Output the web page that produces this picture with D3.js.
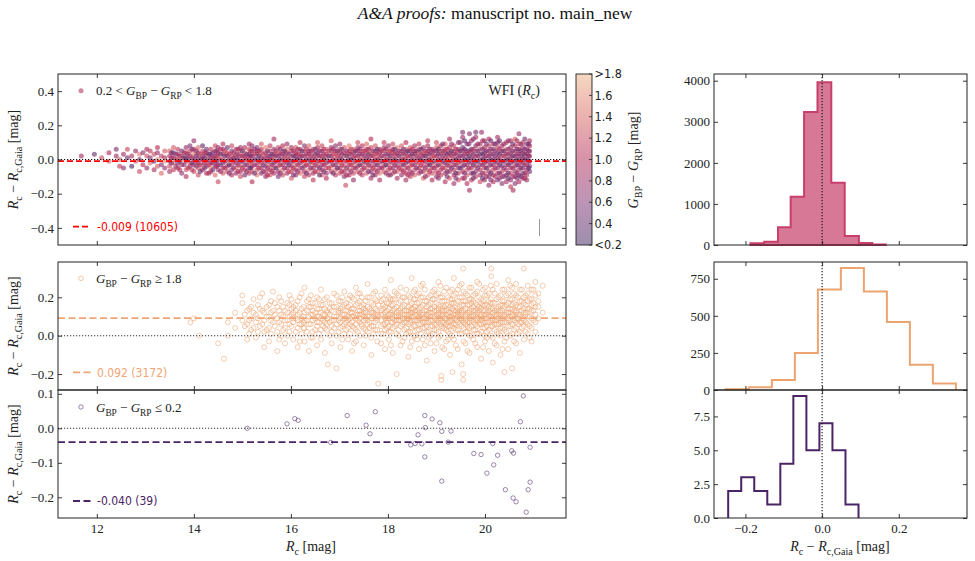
<!DOCTYPE html>
<html><head><meta charset="utf-8">
<script src="https://cdn.jsdelivr.net/npm/d3@7/dist/d3.min.js"></script>
<style>body{margin:0;background:#fff}svg{display:block}</style>
</head><body>
<svg id="c" width="975" height="561"></svg>
<script>
// ================= DATA =================
// Top panel: 0.2 < BP-RP < 1.8. Each row: [Rc, dR(0.01 mag), colour(0.1 mag), dR, colour, ...]
const topPts = [
[11.68,2,9],[11.95,3,5],[12.10,1,12],[12.25,4,10,-1,14],[12.40,2,8,6,6],[12.47,-4,11,0,13],[12.55,-5,7,3,9],[12.63,1,5,6,12],[12.72,-4,3,2,10],[12.80,5,8,-1,13],[12.88,0,6,-7,12,3,15],[12.95,-3,10,4,7],[13.03,2,12,-5,8,6,9],[13.10,-2,14,1,6,5,11],[13.18,-6,9,3,12,-1,4],[13.25,0,16,4,8,-4,13,7,10],[13.33,-3,6,2,11,-8,14],[13.40,1,9,5,13,-5,7,-1,16],
[13.50,-4,12,-1,7,2,10,5,14,-7,9],[13.58,-2,15,1,8,4,5,-6,11,7,13],[13.67,-5,10,-2,6,0,13,3,9,6,11],[13.75,-3,8,0,16,2,12,-8,7,5,5],[13.84,-6,13,-1,9,1,6,4,11,-10,10,7,8],[13.92,-4,7,-2,14,2,9,5,12,8,6],
[14.00,-7,11,-3,9,0,6,3,15,6,10,11,8],[14.09,-5,13,-2,8,1,11,4,7,-9,12,7,14],[14.18,-6,9,-3,15,0,10,2,6,5,12,8,4],[14.26,-4,7,-1,12,2,14,4,8,-8,10,6,5],[14.35,-7,10,-5,16,-2,8,1,12,3,6,6,11],[14.44,-4,9,0,13,2,7,5,10,-9,14,8,12,-1,6],
[14.50,-13,12,-6,8,-3,11,1,15,4,9,7,7],[14.60,-5,10,-2,6,0,14,3,11,6,8,-8,13,9,10],[14.69,-7,12,-4,9,-1,16,2,7,4,13,7,4],[14.78,-6,8,-3,11,0,9,2,14,5,6,-9,10,8,12],[14.87,-5,14,-2,8,1,10,3,12,6,9,-8,7],[14.96,-7,9,-4,13,-1,6,2,11,5,15,7,8,-10,12],
[15.05,-6,11,-3,7,0,12,2,9,4,14,7,10,-9,5],[15.14,-5,8,-2,15,1,10,3,6,6,12,-8,11,9,9],[15.20,-13,10,-7,12,-4,9,-1,14,2,8,5,11,8,7],[15.30,-6,13,-3,10,0,7,3,12,5,9,-9,15,7,6],[15.39,-5,9,-2,12,1,8,4,14,6,10,-8,7,9,13],[15.48,-7,11,-4,6,-1,13,1,10,4,9,7,15,-10,8],
[15.57,-6,10,-3,14,0,9,2,6,5,12,8,11,-9,13],[15.65,12,9,-5,12,-2,8,1,15,3,11,6,7,-8,10],[15.74,-7,8,-4,13,-1,10,2,9,4,14,7,12,-10,6],[15.83,-6,14,-3,9,0,11,3,7,5,13,8,10,-9,12],[15.92,-5,10,-2,7,1,13,4,10,6,15,-8,9,9,8],
[16.01,-7,12,-4,10,-1,8,2,14,5,11,7,9,-11,13],[16.10,-6,9,-3,15,0,12,2,8,4,10,7,13,-9,7],[16.19,-5,13,-2,10,1,7,3,12,6,9,-8,14,10,11],[16.28,-7,10,-4,8,-1,14,2,11,5,13,8,6,-10,12],[16.37,-6,15,-3,12,0,9,3,10,5,8,-9,11,8,14],[16.46,-5,8,-2,13,1,10,4,15,6,12,-8,9,-12,11],
[16.55,-7,14,-4,11,-1,9,2,12,4,7,7,10,10,13],[16.64,-6,9,-3,10,0,15,2,11,5,8,-9,13,8,12],[16.73,-5,12,-2,9,1,13,3,10,6,14,-8,7,-11,10],[16.83,-7,11,-4,14,-1,10,2,8,5,12,7,9,11,13],[16.92,-6,13,-3,8,0,12,3,14,5,10,-9,11,8,7],
[17.01,-5,10,-2,15,1,9,4,11,6,13,-8,12,9,8],[17.10,-7,9,-4,12,-1,11,2,14,4,10,7,13,-10,7],[17.13,-15,12],[17.20,-6,14,-3,10,0,8,3,12,5,11,8,15,-9,9],[17.29,-5,11,-2,13,1,10,4,9,6,14,-8,12,-12,8],[17.38,-7,13,-4,9,-1,15,2,11,5,10,7,8,10,12],
[17.47,-6,10,-3,12,0,14,3,9,5,13,-9,11,8,10],[17.56,-5,15,-2,11,1,8,4,12,6,10,-8,13,9,14],[17.65,-7,8,-4,11,-1,13,2,10,4,15,7,12,-11,9,12,10],[17.74,-6,12,-3,9,0,11,3,14,5,8,-9,10,8,13],[17.83,-5,10,-2,14,1,12,4,9,6,11,-8,15,-12,10],[17.92,-7,13,-4,10,-1,8,2,12,5,14,7,9,10,11],
[18.01,-6,11,-3,13,0,10,3,9,5,15,-9,12,8,8],[18.10,-5,9,-2,12,1,14,4,11,6,10,-8,13,9,12],[18.19,-7,14,-4,8,-1,11,2,13,4,10,7,15,-11,9],[18.28,-6,10,-3,12,0,9,3,14,5,11,-9,8,8,13],[18.37,-5,13,-2,10,1,12,4,8,6,14,-8,11,-12,9,10,10],[18.46,-7,9,-4,14,-1,12,2,10,5,9,7,13,-10,11],
[18.55,-6,12,-3,8,0,13,3,11,5,10,-9,14,8,9],[18.64,-5,10,-2,13,1,9,4,14,6,12,-8,10,9,11],[18.73,-7,11,-4,12,-1,10,2,9,4,13,7,8,-11,14],[18.82,-6,14,-3,9,0,11,3,12,5,10,-9,13,8,9,11,11],[18.91,-5,9,-2,11,1,13,4,10,6,8,-8,12,-12,10],
[19.00,-7,12,-4,10,-1,14,2,11,5,9,7,13,-10,8,10,12],[19.09,-6,10,-3,13,0,9,3,12,5,14,-9,11,8,10],[19.18,-5,13,-2,8,1,11,4,10,6,12,-8,9,9,14,-13,10],[19.27,-7,9,-4,11,-1,12,2,14,4,8,7,11,-11,13,12,9],[19.36,-6,11,-3,10,0,12,3,9,5,13,-9,10,8,12,-14,8],[19.45,-5,8,-2,12,1,10,4,13,6,9,-8,11,10,7,-12,12],
[19.54,-7,10,-4,6,-1,13,2,8,5,11,7,5,-11,9,13,8,16,6],[19.63,-6,12,-3,8,0,5,3,11,5,9,-9,13,9,7,-14,10],[19.68,15,7,-18,9],[19.72,-5,9,-2,11,1,8,4,12,6,4,-8,7,11,9,-12,11],[19.81,-7,8,-4,12,-1,5,2,10,5,13,8,7,-10,11,13,9,16,5],[19.90,-6,10,-3,7,0,11,3,4,6,12,-9,8,9,10,-13,12],[19.93,16,8],
[19.99,-5,11,-2,9,1,6,4,8,7,10,-8,13,11,7,-12,9],[20.08,-7,9,-4,13,-1,8,2,5,5,9,8,12,-10,7,12,10,-15,8],[20.17,-6,12,-3,8,0,10,3,6,6,7,-9,11,9,9,-13,10],[20.26,-5,8,-2,11,1,9,4,7,7,12,-8,10,10,8,-12,6,13,9],[20.35,-7,11,-4,7,-1,5,2,13,5,8,8,9,-10,12,-14,7],
[20.44,-6,9,-3,12,0,8,3,10,6,14,-9,7,10,11,-13,9],[20.53,-5,10,-2,7,1,11,4,9,7,8,-8,12,11,10,-12,8,-16,11],[20.58,-18,9],[20.62,-7,8,-4,11,-1,9,2,7,5,12,8,10,-10,8,12,13,-14,6],[20.70,-6,11,-3,8,0,12,3,9,6,10,-9,7,9,13,15,8,-13,10],
[20.78,-5,7,-2,10,1,8,4,11,7,9,-8,6,10,12,-11,9],[20.86,-6,9,-3,12,0,7,3,10,6,8,-9,11,9,6,-12,8],[20.92,-4,6,-1,9,2,8,5,7,8,10,-7,5,11,9]
];
// more stars of the same sample, read between the columns above
const topPts2 = [
[13.54,-2,6,1,9,4,5],[13.63,-4,8,0,11,3,7],[13.71,-1,5,2,9,-6,10],[13.80,-3,7,1,4,4,9],[13.88,-5,10,0,6,3,8],[13.96,-2,4,1,9,6,7,-6,11],[14.05,-4,7,-1,10,2,5,5,8],[14.13,-3,9,0,6,3,11,-7,4],[14.22,-5,6,-2,8,1,5,4,10],[14.31,-3,10,0,7,3,4,-8,9],[14.39,-6,5,-2,9,1,8,4,6],[14.47,-4,8,-1,5,2,10,5,7],
[14.55,-3,6,0,9,3,4,-7,8,6,10],[14.64,-5,9,-1,7,2,5,5,11],[14.73,-3,4,0,8,3,10,-8,6],[14.82,-5,7,-1,10,1,6,4,9],[14.91,-3,8,0,5,3,7,-7,10,6,9],[15.00,-5,10,-1,6,2,9,5,4],[15.09,-3,7,0,11,3,5,-7,8],[15.17,-5,4,-1,9,2,7,5,10],[15.25,-3,8,0,6,3,9,-8,5,6,7],[15.34,-5,10,-1,7,2,4,5,9],[15.43,-3,6,0,8,3,11,-7,7],
[15.52,-5,9,-1,5,2,8,5,6,-9,10],[15.61,-3,7,0,10,3,4,-7,9],[15.69,-5,4,-1,8,2,6,5,10],[15.78,-3,9,0,5,3,8,-8,7,6,6],[15.87,-5,7,-1,10,2,9,5,4],[15.96,-3,5,0,8,3,6,-7,11],[16.05,-5,10,-1,7,2,4,5,9,-9,6],[16.14,-3,8,0,5,3,10,-7,7,6,9],[16.23,-5,6,-1,9,2,7,5,4],[16.32,-3,10,0,6,3,8,-8,5,6,11],
[16.41,-5,7,-1,4,2,9,5,8],[16.50,-3,9,0,7,3,5,-7,10,6,6],[16.59,-5,5,-1,10,2,8,5,7,-9,4],[16.68,-3,8,0,4,3,9,-7,6,6,10],[16.78,-5,10,-1,6,2,5,5,9],[16.87,-3,7,0,9,3,11,-8,5,6,8],[16.96,-5,4,-1,8,2,10,5,6],[17.05,-3,9,0,6,3,7,-7,10,6,5],[17.15,-5,6,-1,10,2,4,5,8,-9,9],
[17.24,-3,10,0,5,3,8,-7,7,6,11],[17.33,-5,8,-1,7,2,9,5,5],[17.42,-3,5,0,10,3,6,-8,9,6,7],[17.51,-5,9,-1,4,2,8,5,10],[17.60,-3,7,0,8,3,5,-7,6,6,9],[17.69,-5,10,-1,6,2,9,5,7,-9,5],[17.78,-3,6,0,9,3,10,-7,8,6,4],[17.87,-5,8,-1,5,2,7,5,9],[17.96,-3,4,0,10,3,6,-8,7,6,8],
[18.05,-5,9,-1,7,2,5,5,10,-9,6],[18.14,-3,7,0,4,3,9,-7,8,6,5],[18.23,-5,10,-1,8,2,6,5,7],[18.32,-3,5,0,9,3,7,-7,10,6,6],[18.41,-5,8,-1,5,2,10,5,4,-9,9],[18.50,-3,9,0,7,3,4,-8,8,6,10],[18.59,-5,6,-1,10,2,8,5,5],[18.68,-3,10,0,5,3,9,-7,7,6,4],[18.77,-5,7,-1,8,2,4,5,9,-10,6],
[18.86,-3,4,0,9,3,6,-7,10,6,8],[18.95,-5,9,-1,6,2,10,5,7],[19.04,-3,6,0,8,3,5,-8,9,6,4,-11,7],[19.13,-5,10,-1,4,2,7,5,8,9,6],[19.22,-3,7,0,9,3,4,-7,6,6,10,-10,5],[19.31,-5,5,-1,7,2,9,5,4,9,8],[19.40,-3,8,0,5,3,7,-8,4,6,9,-11,6],[19.49,-5,4,-1,9,2,6,5,5,10,7],
[19.58,-3,7,0,4,3,8,-8,6,6,5,-11,9,11,4],[19.67,-5,9,-1,5,2,4,5,7,9,6],[19.76,-3,5,0,8,3,6,-8,4,6,9,-11,5,12,7],[19.85,-5,6,-1,4,2,7,5,5,9,8],[19.95,-3,8,0,5,3,4,-8,7,6,6,-11,4,11,9],[20.03,-5,4,-1,7,2,9,5,5,9,6,-10,8],[20.12,-3,6,0,5,3,8,-8,4,6,7,-12,6,11,5],
[20.21,-5,9,-1,4,2,6,5,7,9,5,-10,9],[20.30,-3,5,0,8,3,4,-8,6,6,9,-11,7,11,4],[20.39,-5,7,-1,5,2,9,5,4,9,8,-10,6],[20.48,-3,4,0,6,3,7,-8,5,6,8,-11,4,11,7],[20.57,-5,8,-1,7,2,4,5,6,9,5,-10,9],[20.66,-3,6,0,4,3,8,-8,7,6,5,-11,6,11,9],[20.74,-5,5,-1,9,2,6,5,4,9,7,-10,5],
[20.82,-3,7,0,5,3,4,-8,8,6,6,-11,9,12,5],[20.90,-5,4,-1,6,2,8,5,7,9,5]
];
const topMean = -0.009, topCount = 10605;

// Middle panel: BP-RP >= 1.8. Each row: [Rc, dR values in 0.01 mag ...]
const midPts = [
[13.93,7],[14.00,9],[14.11,0],[14.50,-4],[14.62,-12],[14.70,0,7],[14.85,4,12],[15.00,21,17,8],[15.10,6,13,-2],[15.18,9,15,3],[15.28,11,-1,7],[15.36,14,5,20],[15.45,8,-6,12,2],[15.55,10,16,4,-3],[15.63,7,13,23],[15.72,9,2,15,-8],[15.80,11,6,18,0],[15.88,8,13,-4,4],[15.97,10,16,2,21,6],
[16.05,7,12,-2,9,15],[16.14,11,4,18,-6,8],[16.22,9,14,1,6,22],[16.28,25,12,-3,8,4],[16.37,10,15,6,-8,19],[16.45,8,13,2,11,-1,17],[16.54,10,5,14,20,-5,7],[16.62,9,12,3,16,-2,24],[16.70,11,7,14,-9,4,19],[16.76,-15,9,12],[16.84,8,13,2,17,5,-4],[16.94,-17,10,15,6,21,0],
[17.02,9,12,4,18,-6,7,14],[17.10,11,6,16,1,23,9],[17.18,8,13,-2,10,19,4,15],[17.26,10,5,14,-8,7,20,12],[17.34,9,16,3,11,25,-3,6],[17.42,11,7,13,18,0,9,22],[17.50,8,14,4,10,-5,16,12],[17.58,10,6,15,2,20,8,27],[17.66,9,12,-1,17,5,13,-10],[17.74,11,7,14,3,19,9,23],[17.80,-25,10,16],[17.86,8,13,5,18,-4,11,1,21],[17.94,10,6,15,9,24,-7,12,3],
[18.02,9,14,2,11,17,5,-2,20],[18.06,29],[18.10,11,7,13,4,19,9,-9,16],[18.18,8,12,-20,15,6,10,22,1],[18.26,10,5,14,18,8,12,-5,25],[18.34,9,13,3,16,7,11,20,-1],[18.42,11,6,15,9,21,2,13,-11],[18.49,30,10,17,4,8,14,-3,12],[18.56,8,13,5,19,11,0,24,15],[18.64,10,6,14,9,17,-7,12,3,22],[18.72,9,12,4,16,7,20,-2,11,27],[18.80,11,7,13,2,18,9,-13,15,5],[18.88,8,14,5,10,21,12,-4,17,0],[18.96,10,6,15,9,19,3,13,24,-8],
[19.04,9,12,2,16,7,11,22,-1,14,28],[19.10,-21,-23,5],[19.12,11,7,14,4,18,10,-6,13,20],[19.20,8,13,3,16,9,25,-3,11,6],[19.28,10,5,15,12,19,1,8,-10,23],[19.33,-19,14,9],[19.36,9,13,6,17,11,21,-2,4,30],[19.44,11,7,14,10,3,18,24,-7,12],[19.52,8,12,5,16,9,20,-15,13,1,27],[19.55,35,-20,-23],[19.60,10,6,14,11,18,2,22,-4,8],[19.68,9,13,4,16,7,12,25,-9,19,0],[19.76,11,7,15,10,3,18,21,-2,13],[19.84,8,12,5,16,9,23,-6,14,1,28],[19.92,10,6,14,11,19,2,-12,8,17],
[20.00,9,13,4,16,7,21,-3,11,25,0],[20.08,11,7,15,10,3,18,-8,13,22],[20.13,35,31],[20.16,8,12,5,17,9,24,-1,14,-14],[20.24,10,6,14,11,19,2,27,-5,8],[20.32,9,13,4,16,7,21,-10,12,0],[20.40,11,7,15,10,18,3,-19,24,-3],[20.48,8,12,5,17,9,22,-7,14,29],[20.56,10,6,14,11,19,1,-17,25,16],[20.64,9,13,4,16,7,21,-4,12,27],[20.72,11,7,15,10,18,2,24,-9],[20.80,8,12,5,17,35,20,-2,14],[20.88,10,6,14,22,18,1,26],[20.96,9,13,4,16,24,19,-3],[21.04,11,15,7,21,28,2],[21.10,22,15,9,18],[21.19,26,12]
];
const midPts2 = [
[15.05,5,11],[15.14,8,1,14],[15.23,12,4,19],[15.32,9,2,16],[15.41,6,13,22],[15.50,10,3,15],[15.59,8,1,12,18],[15.67,11,5,17],[15.76,7,13,-2,20],[15.84,10,3,15],[15.93,8,12,0,17],[16.01,11,5,14,19],[16.10,9,2,13,16],[16.18,6,12,20,-3],[16.26,10,4,15,7],[16.33,8,13,2,18],[16.41,11,6,15,-1,21],[16.50,9,3,12,17],[16.58,7,14,1,19,10],[16.66,11,5,16,8],[16.74,9,3,13,20,6],[16.80,7,14,0,17,11],[16.89,10,4,15,22,8],[16.98,8,12,2,18,13],
[17.06,11,5,15,20,-2],[17.14,9,3,13,17,7],[17.22,6,12,1,16,21,9],[17.30,10,4,14,19,-4],[17.38,8,13,2,17,11,22],[17.46,11,5,15,6,20],[17.54,9,3,12,18,0,13],[17.62,7,14,4,20,10],[17.70,10,5,16,1,22,12],[17.78,8,13,3,18,11,-3],[17.90,11,6,14,19,1,16],[17.98,9,4,13,17,7,21],
[18.06,7,12,2,16,11,19,-5],[18.14,10,5,14,19,8,23],[18.22,8,13,3,17,11,0,21],[18.30,11,6,15,20,9,-3],[18.38,9,4,13,18,7,24,1],[18.46,7,12,2,16,11,20,-6],[18.53,10,5,14,19,8,23,0],[18.60,8,13,3,17,11,-2,21],[18.68,11,6,15,20,9,1,26],[18.76,9,4,13,18,7,24,-5],[18.84,7,12,2,16,11,20,-1],[18.92,10,5,14,19,8,23,1],
[19.00,8,13,3,17,11,-4,21,6],[19.08,11,6,15,20,9,0,26],[19.16,9,4,13,18,7,23,-7,15],[19.24,7,12,2,16,11,20,-2,5],[19.32,10,5,14,19,8,24,0,17],[19.40,8,13,3,17,11,-5,22,6],[19.48,11,6,15,20,9,1,26,13],[19.56,9,4,13,18,7,23,-3,16],[19.64,7,12,2,16,11,21,-8,5],[19.72,10,5,14,19,8,25,0,17],[19.80,8,13,3,17,11,-4,22,6],[19.88,11,6,15,20,9,1,27,13],[19.96,9,4,13,18,7,24,-6,16],
[20.04,7,12,2,16,11,21,-1,5],[20.12,10,5,14,19,8,26,0,17],[20.20,8,13,3,17,11,-4,22,6],[20.28,11,6,15,20,9,1,13],[20.36,9,4,13,18,7,24,-7,16],[20.44,7,12,2,16,11,21,-1],[20.52,10,5,14,19,8,26,0],[20.60,8,13,3,17,11,-3,22],[20.68,11,6,15,20,9,1],[20.76,9,4,13,18,7,24],[20.84,7,12,2,16,11,21],[20.92,10,5,14,19,-1],[21.00,8,13,17,24]
];
const midMean = 0.092, midCount = 3172;

// Bottom panel: BP-RP <= 0.2. [Rc, dR]
const botPts = [
[15.10,0.000],[15.92,0.013],[16.08,0.028],[16.15,0.023],[16.82,-0.041],[17.16,0.037],[17.55,0.009],[17.63,-0.016],[17.74,0.048],[18.47,-0.048],[18.56,-0.044],[18.62,-0.019],[18.70,-0.045],[18.76,0.037],[18.77,0.002],[18.76,-0.083],[18.91,0.027],[19.07,0.016],[19.11,-0.009],[19.11,-0.153],[19.24,-0.040],[19.30,-0.008],[19.77,-0.073],[19.92,-0.076],[20.04,-0.130],[20.16,-0.044],[20.18,-0.106],[20.26,-0.078],[20.42,-0.178],[20.55,-0.065],[20.59,-0.072],[20.58,-0.202],[20.64,-0.213],[20.73,0.019],[20.79,0.094],[20.85,-0.243],[20.89,-0.178],[20.93,-0.055],[20.93,-0.156]
];
const botMean = -0.040, botCount = 39;

// Histograms of Rc - Rc,Gaia
const topHistEdges = [-0.187,-0.151,-0.115,-0.082,-0.047,-0.012,0.024,0.059,0.096,0.131,0.166];
const topHistCounts = [40,80,430,1175,3240,3965,1515,220,50,15];
const midHistEdges = [-0.252,-0.191,-0.131,-0.071,-0.011,0.049,0.109,0.169,0.229,0.289,0.349];
const midHistCounts = [5,18,68,250,678,822,664,459,171,43];
const botHistEdges = [-0.245,-0.211,-0.177,-0.143,-0.109,-0.075,-0.041,-0.007,0.027,0.061,0.095];
const botHistCounts = [2,3,2,1,4,9,5,7,5,1];

// Ticks
const magTicks = [12,14,16,18,20];
const y1Ticks = [-0.4,-0.2,0,0.2,0.4];
const y2Ticks = [-0.2,0,0.2];
const y3Ticks = [-0.2,-0.1,0,0.1];
const hxTicks = [-0.2,0,0.2];
const h1Ticks = [0,1000,2000,3000,4000];
const h2Ticks = [0,250,500,750];
const h3Ticks = [0,2.5,5,7.5];
const cbTicks = [0.2,0.4,0.6,0.8,1.0,1.2,1.4,1.6,1.8];
const cbLabels = ['<0.2','0.4','0.6','0.8','1.0','1.2','1.4','1.6','>1.8'];

// ================= STYLE =================
const SERIF = "'Liberation Serif','Times New Roman',serif";
const NARROW = "'Liberation Sans Narrow','DejaVu Sans Condensed','DejaVu Sans',sans-serif";
const INK = '#222';
const cmapStops = [0.2,0.6,1.0,1.4,1.8];
const cmapColors = ['#3b1c5a','#7a2a6e','#b02452','#d8625f','#ebb083'];
const cmap = d3.scaleLinear().domain(cmapStops).range(cmapColors).clamp(true);
const ORANGE = '#eca471', PURPLE = '#4b2466', PINK = '#c83f6b';

const svg = d3.select('#c');

// scales
const L0 = 58, L1 = 566, R0 = 714, R1 = 967;
const P1 = [74,245], P2 = [262,390], P3 = [390,518];
const xMag = d3.scaleLinear().domain([11.2,21.67]).range([L0,L1]);
const y1 = d3.scaleLinear().domain([-0.5,0.5]).range([P1[1],P1[0]]);
const y2 = d3.scaleLinear().domain([-0.283,0.384]).range([P2[1],P2[0]]);
const y3 = d3.scaleLinear().domain([-0.26,0.111]).range([P3[1],P3[0]]);
const xH = d3.scaleLinear().domain([-0.282,0.378]).range([R0,R1]);
const yH1 = d3.scaleLinear().domain([0,4163]).range([P1[1],P1[0]]);
const yH2 = d3.scaleLinear().domain([0,863]).range([P2[1],P2[0]]);
const yH3 = d3.scaleLinear().domain([0,9.45]).range([P3[1],P3[0]]);
const cbY = d3.scaleLinear().domain([0.2,1.8]).range([P1[1],P1[0]]);

// helpers
function mathText(g, parts, fs){
  let shift = 0;
  parts.forEach(([t, st]) => {
    const ts = g.append('tspan').text(t);
    const sub = st.includes('s');
    const target = sub ? fs*0.32 : 0;
    if (target !== shift){ ts.attr('dy', target - shift); shift = target; }
    ts.attr('font-size', sub ? fs*0.72 : fs);
    if (st.includes('i')) ts.attr('font-style','italic');
  });
  return g;
}
const fmt1 = d => (d<0?'\u2212':'') + Math.abs(d).toFixed(1);
const fmt0 = d => String(d);
function axes(xs, ys, xt, yt, xfmt, yfmt){
  const [x0,x1] = xs.range(); const [yb,yt0] = ys.range();
  const gs = [];
  gs.push(svg.append('g').attr('transform',`translate(0,${yb})`).call(d3.axisBottom(xs).tickValues(xt).tickSize(-4).tickSizeOuter(0).tickPadding(6).tickFormat(xfmt || (()=>''))));
  gs.push(svg.append('g').attr('transform',`translate(0,${yt0})`).call(d3.axisTop(xs).tickValues(xt).tickSize(-4).tickSizeOuter(0).tickFormat(()=>'')));
  gs.push(svg.append('g').attr('transform',`translate(${x0},0)`).call(d3.axisLeft(ys).tickValues(yt).tickSize(-4).tickSizeOuter(0).tickPadding(4).tickFormat(yfmt)));
  gs.push(svg.append('g').attr('transform',`translate(${x1},0)`).call(d3.axisRight(ys).tickValues(yt).tickSize(-4).tickSizeOuter(0).tickFormat(()=>'')));
  gs.forEach(g => {
    g.select('.domain').remove();
    g.selectAll('line').attr('stroke',INK).attr('stroke-width',0.9);
    g.selectAll('text').attr('font-family',SERIF).attr('font-size',13).attr('fill',INK);
  });
  svg.append('rect').attr('x',x0).attr('y',yt0).attr('width',x1-x0).attr('height',yb-yt0)
    .attr('fill','none').attr('stroke',INK).attr('stroke-width',1);
}
function hline(xs, y, v, color, dash, w){
  const [a,b] = xs.range();
  svg.append('line').attr('x1',a).attr('x2',b).attr('y1',y(v)).attr('y2',y(v))
    .attr('stroke',color).attr('stroke-width',w).attr('stroke-dasharray',dash);
}
function stepPath(edges, counts, ys){
  const p = d3.path();
  p.moveTo(xH(edges[0]), ys(0));
  counts.forEach((c,i) => { p.lineTo(xH(edges[i]), ys(c)); p.lineTo(xH(edges[i+1]), ys(c)); });
  p.lineTo(xH(edges[edges.length-1]), ys(0));
  return p.toString();
}

// ===== Title =====
const title = svg.append('text').attr('x',495).attr('y',19).attr('text-anchor','middle')
  .attr('font-family',SERIF).attr('font-size',17.5).attr('fill','#111');
title.append('tspan').attr('font-style','italic').text('A&A proofs:');
title.append('tspan').text(' manuscript no. main_new');

// ===== Panel 1 scatter =====
const g1 = svg.append('g');
[topPts, topPts2].forEach(arr => arr.forEach(row => {
  const x = row[0];
  for (let i=1;i<row.length;i+=2){
    g1.append('circle').attr('cx',xMag(x)).attr('cy',y1(row[i]/100)).attr('r',2.5)
      .attr('fill',cmap(row[i+1]/10)).attr('fill-opacity',0.6);
  }
}));
hline(xMag, y1, 0, '#111', '1.2,1.8', 1.1);
hline(xMag, y1, topMean, '#ff0000', '6,3', 1.8);
svg.append('line').attr('x1',539.5).attr('x2',539.5).attr('y1',219).attr('y2',236).attr('stroke','#999').attr('stroke-width',1);
axes(xMag, y1, magTicks, y1Ticks, null, fmt1);

// ===== Panel 2 scatter =====
const g2 = svg.append('g');
[midPts, midPts2].forEach(arr => arr.forEach(row => {
  for (let i=1;i<row.length;i++){
    g2.append('circle').attr('cx',xMag(row[0])).attr('cy',y2(row[i]/100)).attr('r',2.5)
      .attr('fill','none').attr('stroke',ORANGE).attr('stroke-opacity',0.55).attr('stroke-width',1);
  }
}));
hline(xMag, y2, 0, '#333', '1.2,1.8', 1.1);
hline(xMag, y2, midMean, '#f0a474', '7,3.5', 1.8);
axes(xMag, y2, magTicks, y2Ticks, null, fmt1);

// ===== Panel 3 scatter =====
const g3 = svg.append('g');
botPts.forEach(([x,y]) => {
  g3.append('circle').attr('cx',xMag(x)).attr('cy',y3(y)).attr('r',2.2)
    .attr('fill','none').attr('stroke',PURPLE).attr('stroke-opacity',0.6).attr('stroke-width',0.9);
});
hline(xMag, y3, 0, '#333', '1.2,1.8', 1.1);
hline(xMag, y3, botMean, PURPLE, '7,3.5', 1.8);
axes(xMag, y3, magTicks, y3Ticks, fmt0, fmt1);

// ===== Legends & labels (left) =====
svg.append('circle').attr('cx',81).attr('cy',90.7).attr('r',2.5).attr('fill',cmap(1.0)).attr('fill-opacity',0.55);
mathText(svg.append('text').attr('x',96).attr('y',95).attr('font-family',SERIF).attr('fill',INK),
  [['0.2 < ','r'],['G','i'],['BP','s'],[' \u2212 ','r'],['G','i'],['RP','s'],[' < 1.8','r']], 13);
mathText(svg.append('text').attr('x',540).attr('y',95).attr('text-anchor','end').attr('font-family',SERIF).attr('fill',INK),
  [['WFI (','r'],['R','i'],['c','s'],[')','r']], 14);
svg.append('line').attr('x1',73).attr('x2',91).attr('y1',226.7).attr('y2',226.7).attr('stroke','#ff0000').attr('stroke-width',1.8).attr('stroke-dasharray','6,3');
svg.append('text').attr('x',97).attr('y',231).attr('font-family',NARROW).attr('font-stretch','condensed').attr('font-size',12).attr('fill','#ff0000')
  .text(`${topMean.toFixed(3)} (${topCount})`);

svg.append('circle').attr('cx',81).attr('cy',278.3).attr('r',2.3).attr('fill','none').attr('stroke',ORANGE).attr('stroke-opacity',0.6).attr('stroke-width',1);
mathText(svg.append('text').attr('x',96).attr('y',283).attr('font-family',SERIF).attr('fill',INK),
  [['G','i'],['BP','s'],[' \u2212 ','r'],['G','i'],['RP','s'],[' \u2265 1.8','r']], 13);
svg.append('line').attr('x1',73).attr('x2',91).attr('y1',372.3).attr('y2',372.3).attr('stroke','#f0a474').attr('stroke-width',1.8).attr('stroke-dasharray','7,3.5');
svg.append('text').attr('x',97).attr('y',376.5).attr('font-family',NARROW).attr('font-stretch','condensed').attr('font-size',12).attr('fill','#f0a474')
  .text(`${midMean.toFixed(3)} (${midCount})`);

svg.append('circle').attr('cx',81).attr('cy',407).attr('r',2.2).attr('fill','none').attr('stroke',PURPLE).attr('stroke-opacity',0.6).attr('stroke-width',0.9);
mathText(svg.append('text').attr('x',96).attr('y',411.5).attr('font-family',SERIF).attr('fill',INK),
  [['G','i'],['BP','s'],[' \u2212 ','r'],['G','i'],['RP','s'],[' \u2264 0.2','r']], 13);
svg.append('line').attr('x1',73).attr('x2',91).attr('y1',501).attr('y2',501).attr('stroke',PURPLE).attr('stroke-width',1.8).attr('stroke-dasharray','7,3.5');
svg.append('text').attr('x',97).attr('y',505).attr('font-family',NARROW).attr('font-stretch','condensed').attr('font-size',12).attr('fill',PURPLE)
  .text(`${botMean.toFixed(3)} (${botCount})`);

const yLab = [['R','i'],['c','s'],[' \u2212 ','r'],['R','i'],['c,Gaia','s'],[' [mag]','r']];
[P1,P2,P3].forEach(p => {
  const cy = (p[0]+p[1])/2;
  mathText(svg.append('text').attr('transform',`translate(18,${cy}) rotate(-90)`).attr('text-anchor','middle')
    .attr('font-family',SERIF).attr('fill',INK), yLab, 14);
});
mathText(svg.append('text').attr('x',311).attr('y',551).attr('text-anchor','middle').attr('font-family',SERIF).attr('fill',INK),
  [['R','i'],['c','s'],[' [mag]','r']], 14);

// ===== Colorbar =====
const defs = svg.append('defs');
const grad = defs.append('linearGradient').attr('id','cbg').attr('x1',0).attr('y1',1).attr('x2',0).attr('y2',0);
d3.range(0,1.0001,0.05).forEach(t => {
  grad.append('stop').attr('offset',t).attr('stop-color',cmap(0.2+1.6*t)).attr('stop-opacity',0.5);
});
svg.append('rect').attr('x',576).attr('y',P1[0]).attr('width',16).attr('height',P1[1]-P1[0]).attr('fill','url(#cbg)')
  .attr('stroke',INK).attr('stroke-width',0.9);
cbTicks.forEach((v,i) => {
  svg.append('line').attr('x1',592).attr('x2',589).attr('y1',cbY(v)).attr('y2',cbY(v)).attr('stroke',INK).attr('stroke-width',0.8);
  svg.append('text').attr('x',594.5).attr('y',cbY(v)+4.2).attr('font-family',NARROW).attr('font-stretch','condensed').attr('font-size',12.5).attr('fill',INK).text(cbLabels[i]);
});
mathText(svg.append('text').attr('transform',`translate(638,160) rotate(-90)`).attr('text-anchor','middle')
  .attr('font-family',SERIF).attr('fill',INK), [['G','i'],['BP','s'],[' \u2212 ','r'],['G','i'],['RP','s'],[' [mag]','r']], 14);

// ===== Histograms =====
svg.append('path').attr('d', stepPath(topHistEdges, topHistCounts, yH1) + 'Z')
  .attr('fill',PINK).attr('fill-opacity',0.7).attr('stroke',PINK).attr('stroke-width',2).attr('stroke-linejoin','miter');
svg.append('line').attr('x1',xH(0)).attr('x2',xH(0)).attr('y1',P1[0]).attr('y2',P1[1]).attr('stroke','#111').attr('stroke-width',1.1).attr('stroke-dasharray','1.2,1.8');
axes(xH, yH1, hxTicks, h1Ticks, null, fmt0);

svg.append('path').attr('d', stepPath(midHistEdges, midHistCounts, yH2))
  .attr('fill','none').attr('stroke',ORANGE).attr('stroke-width',2);
svg.append('line').attr('x1',xH(0)).attr('x2',xH(0)).attr('y1',P2[0]).attr('y2',P2[1]).attr('stroke','#111').attr('stroke-width',1.1).attr('stroke-dasharray','1.2,1.8');
axes(xH, yH2, hxTicks, h2Ticks, null, fmt0);

svg.append('path').attr('d', stepPath(botHistEdges, botHistCounts, yH3))
  .attr('fill','none').attr('stroke',PURPLE).attr('stroke-width',2);
svg.append('line').attr('x1',xH(0)).attr('x2',xH(0)).attr('y1',P3[0]).attr('y2',P3[1]).attr('stroke','#111').attr('stroke-width',1.1).attr('stroke-dasharray','1.2,1.8');
axes(xH, yH3, hxTicks, h3Ticks, fmt1, d => d.toFixed(1));

mathText(svg.append('text').attr('x',840).attr('y',551).attr('text-anchor','middle').attr('font-family',SERIF).attr('fill',INK), yLab, 14);
</script>
</body></html>
